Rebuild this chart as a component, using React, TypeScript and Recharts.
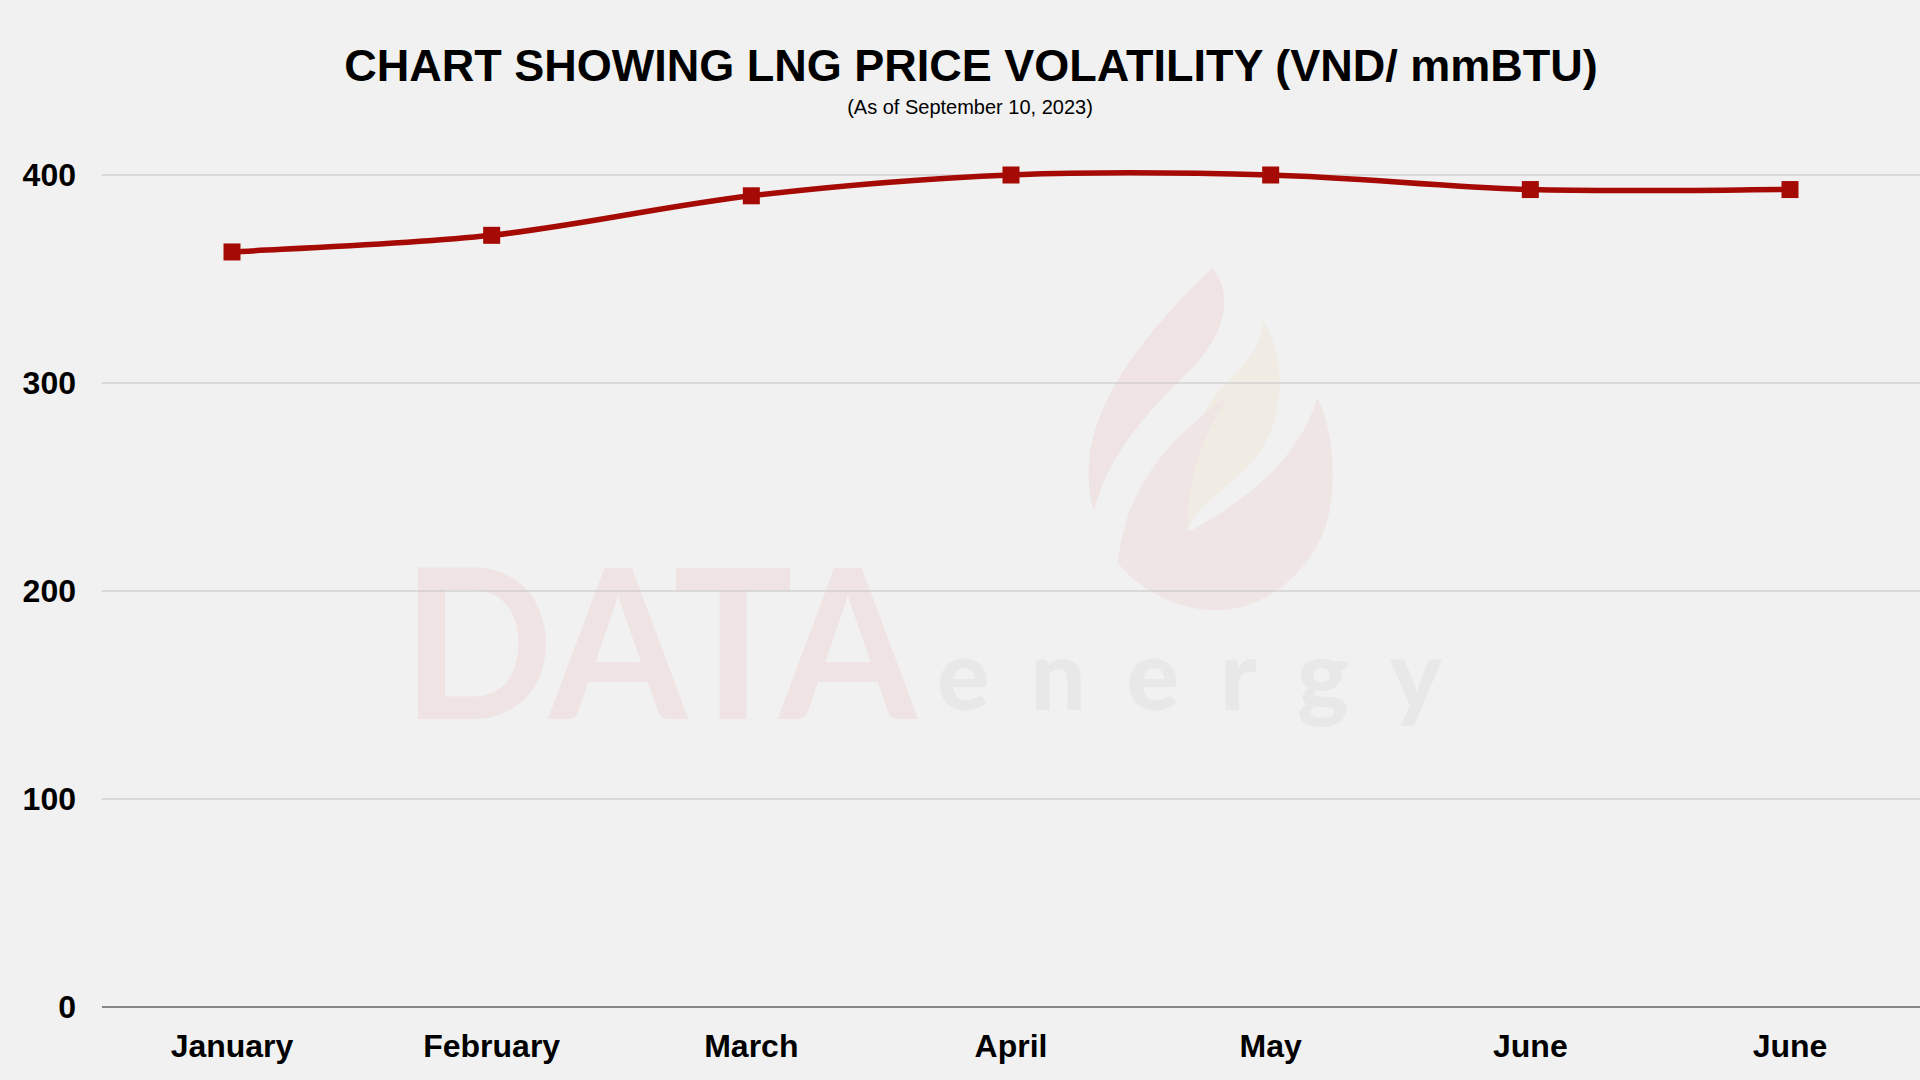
import React from "react";
import { LineChart, Line, XAxis, YAxis, CartesianGrid } from "recharts";

const months = ["January", "February", "March", "April", "May", "June", "June"];
const prices = [363, 371, 390, 400, 400, 393, 393];
const yTicks = [0, 100, 200, 300, 400];

const title = "CHART SHOWING LNG PRICE VOLATILITY (VND/ mmBTU)";
const subtitle = "(As of September 10, 2023)";

const data = months.map((m, i) => ({ month: m, price: prices[i] }));

// Excel-like smoothed curve (Catmull-Rom style bezier)
function smoothCurve(context: any) {
  let pts: number[][] = [];
  return {
    areaStart() {},
    areaEnd() {},
    lineStart() {
      pts = [];
    },
    lineEnd() {
      const n = pts.length;
      if (!n) return;
      context.moveTo(pts[0][0], pts[0][1]);
      for (let i = 0; i < n - 1; i++) {
        const p0 = pts[Math.max(i - 1, 0)];
        const p1 = pts[i];
        const p2 = pts[i + 1];
        const p3 = pts[Math.min(i + 2, n - 1)];
        const c1x = p1[0] + (p2[0] - p0[0]) / 6;
        const c1y = p1[1] + (p2[1] - p0[1]) / 6;
        const c2x = p2[0] - (p3[0] - p1[0]) / 6;
        const c2y = p2[1] - (p3[1] - p1[1]) / 6;
        context.bezierCurveTo(c1x, c1y, c2x, c2y, p2[0], p2[1]);
      }
    },
    point(x: number, y: number) {
      pts.push([+x, +y]);
    },
  };
}

const SquareDot = (props: any) => {
  const { cx, cy, index } = props;
  if (cx == null || cy == null) return null;
  return <rect key={`dot-${index}`} x={cx - 8.5} y={cy - 8.5} width={17} height={17} fill="#a50a05" />;
};

const font = "'Liberation Sans', Arial, sans-serif";

export default function App() {
  return (
    <div style={{ position: "absolute", left: 0, top: 0, width: 1920, height: 1080, background: "#f1f1f1", overflow: "hidden" }}>
      <svg width={1920} height={1080} style={{ position: "absolute", left: 0, top: 0 }}>
        {/* watermark */}
        <g>
          <path d="M1212,268 C1180,300 1095,380 1089,463 C1088,485 1090,500 1094,510 C1110,450 1150,410 1190,370 C1225,335 1235,295 1212,268 Z" fill="#efe4e3" />
          <path d="M1262,320 C1285,350 1290,420 1250,465 C1220,495 1190,510 1188,532 C1180,490 1185,430 1220,390 C1250,360 1265,340 1262,320 Z" fill="#f0ece4" />
          <path d="M1118,563 C1125,480 1180,430 1230,395 C1205,430 1185,480 1188,532 C1240,505 1300,460 1317,398 C1335,430 1340,500 1320,540 C1295,590 1250,612 1210,610 C1170,608 1135,585 1118,563 Z" fill="#efe5e4" />
          <text x={402} y={719} fontFamily="Lato, sans-serif" fontWeight={700} fontSize={208} textLength={515} lengthAdjust="spacingAndGlyphs" fill="#f0e3e3">DATA</text>
          <text x={937} y={710} fontFamily="Lato, sans-serif" fontWeight={900} fontSize={98} textLength={505} lengthAdjust="spacing" fill="#e8e8e8">energy</text>
        </g>
        <text x={971} y={81} textAnchor="middle" fontFamily={font} fontWeight="bold" fontSize={45} fill="#000">{title}</text>
        <text x={970} y={114} textAnchor="middle" fontFamily={font} fontSize={20} fill="#000">{subtitle}</text>
      </svg>
      <div style={{ position: "absolute", left: 0, top: 0 }}>
        <LineChart width={1920} height={1080} data={data} margin={{ top: 175, right: 0, bottom: 0, left: 0 }}>
          <CartesianGrid vertical={false} stroke="#c4c4c4" strokeWidth={1.2} />
          <XAxis
            dataKey="month"
            height={73}
            padding={{ left: 130, right: 130 }}
            axisLine={{ stroke: "#6b6b6b", strokeWidth: 1.5 }}
            tickLine={false}
            tickMargin={21}
            interval={0}
            tick={{ fill: "#000", fontSize: 32, fontWeight: "bold", fontFamily: font }}
          />
          <YAxis
            width={102}
            domain={[0, 400]}
            ticks={yTicks}
            axisLine={false}
            tickLine={false}
            tickMargin={20}
            tick={{ fill: "#000", fontSize: 32, fontWeight: "bold", fontFamily: font }}
          />
          <Line
            type={smoothCurve as any}
            dataKey="price"
            stroke="#a50a05"
            strokeWidth={5.5}
            dot={SquareDot}
            activeDot={false}
            isAnimationActive={false}
          />
        </LineChart>
      </div>
    </div>
  );
}
